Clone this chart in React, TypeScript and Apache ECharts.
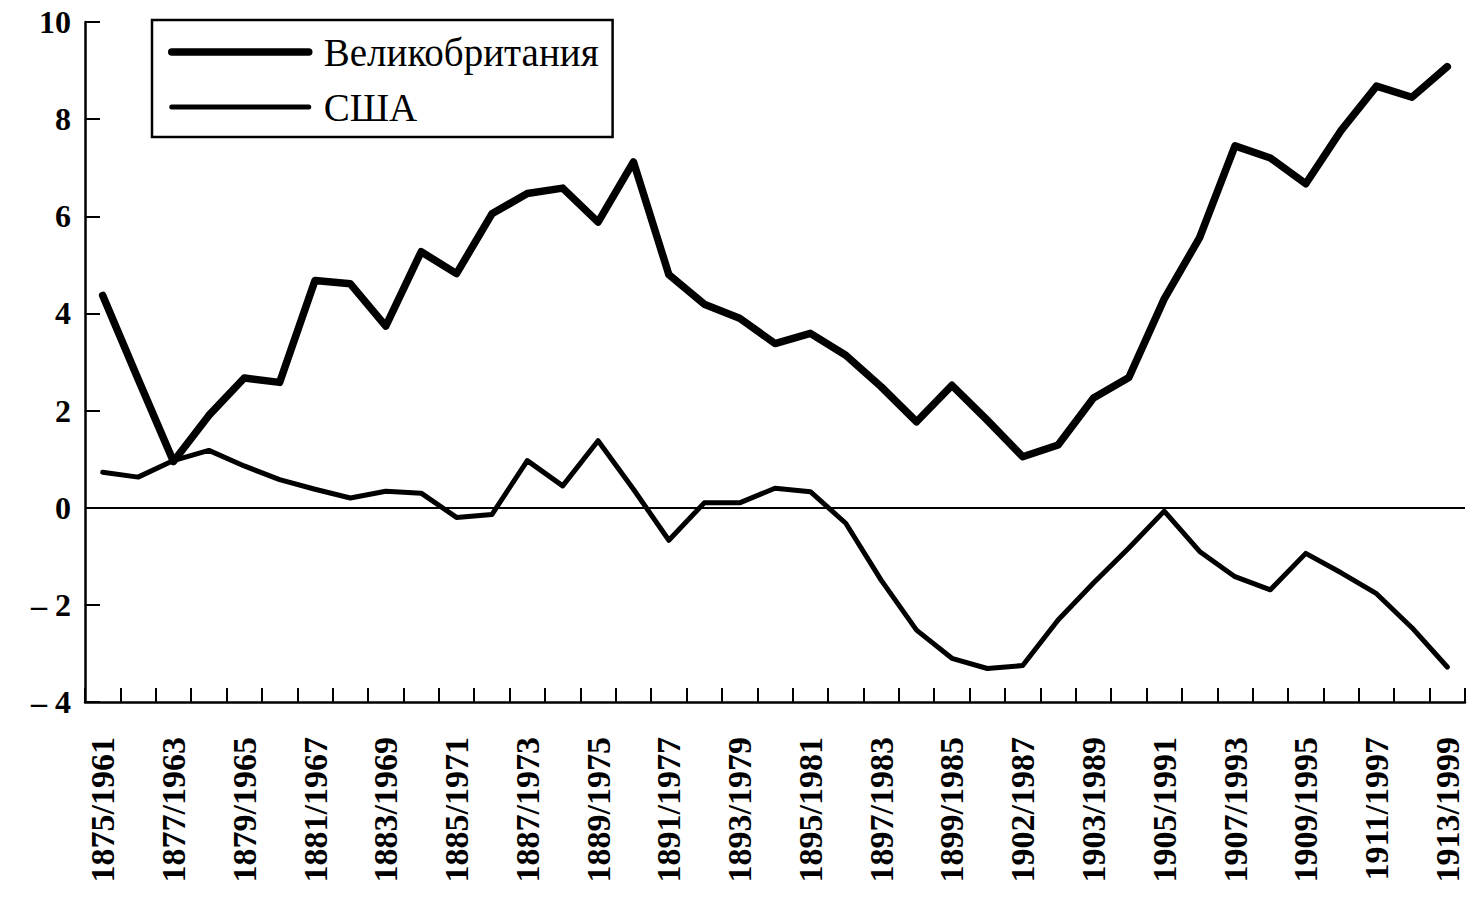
import React, { useEffect, useRef } from "react";
import * as echarts from "echarts";

const categories: string[] = [
  "1875/1961", "1876/1962", "1877/1963", "1878/1964", "1879/1965", "1880/1966",
  "1881/1967", "1882/1968", "1883/1969", "1884/1970", "1885/1971", "1886/1972",
  "1887/1973", "1888/1974", "1889/1975", "1890/1976", "1891/1977", "1892/1978",
  "1893/1979", "1894/1980", "1895/1981", "1896/1982", "1897/1983", "1898/1984",
  "1899/1985", "1900/1986", "1902/1987", "1902/1988", "1903/1989", "1904/1990",
  "1905/1991", "1906/1992", "1907/1993", "1908/1994", "1909/1995", "1910/1996",
  "1911/1997", "1912/1998", "1913/1999",
];

const seriesNames = ["Великобритания", "США"];

const britain: number[] = [
  4.37, 2.65, 0.95, 1.9, 2.67, 2.58, 4.68, 4.61, 3.74, 5.27,
  4.82, 6.05, 6.47, 6.58, 5.88, 7.12, 4.8, 4.19, 3.9, 3.38,
  3.59, 3.14, 2.49, 1.77, 2.52, 1.8, 1.05, 1.29, 2.26, 2.68,
  4.3, 5.56, 7.45, 7.2, 6.67, 7.77, 8.68, 8.45, 9.08,
];

const usa: number[] = [
  0.73, 0.63, 0.97, 1.18, 0.86, 0.58, 0.38, 0.2, 0.34, 0.3,
  -0.2, -0.14, 0.97, 0.45, 1.38, 0.38, -0.67, 0.1, 0.1, 0.4,
  0.33, -0.32, -1.49, -2.52, -3.1, -3.31, -3.25, -2.31, -1.55, -0.83,
  -0.07, -0.9, -1.42, -1.69, -0.94, -1.34, -1.77, -2.47, -3.28,
];

const FONT = "'Liberation Serif', 'DejaVu Serif', serif";

export default function App() {
  const ref = useRef<HTMLDivElement>(null);

  useEffect(() => {
    if (!ref.current) return;
    const chart = echarts.init(ref.current, undefined, { renderer: "svg" });
    chart.setOption({
      animation: false,
      backgroundColor: "#ffffff",
      grid: { left: 85, right: 8, top: 22, bottom: 195, containLabel: false },
      legend: {
        left: 152,
        top: 20,
        orient: "vertical",
        data: [
          { name: seriesNames[0], lineStyle: { width: 7.5 } },
          { name: seriesNames[1], lineStyle: { width: 5 } },
        ],
        itemWidth: 137,
        itemHeight: 14,
        itemGap: 15,
        padding: [12, 14, 10, 16],
        itemStyle: { color: "transparent", opacity: 0, borderWidth: 0 },
        borderColor: "#000",
        borderWidth: 2.5,
        borderRadius: 0,
        backgroundColor: "#fff",
        textStyle: {
          fontFamily: FONT,
          fontSize: 39,
          color: "#000",
          lineHeight: 40,
          padding: [0, 0, 0, 10],
        },
      },
      xAxis: {
        type: "category",
        data: categories,
        boundaryGap: true,
        axisLine: { show: true, onZero: false, lineStyle: { color: "#000", width: 2.5 } },
        axisTick: {
          show: true,
          inside: true,
          length: 14,
          interval: 0,
          lineStyle: { color: "#000", width: 2 },
        },
        axisLabel: {
          interval: 1,
          rotate: 90,
          margin: 35,
          fontFamily: FONT,
          fontWeight: "bold",
          fontSize: 34,
          color: "#000",
        },
        splitLine: { show: false },
      },
      yAxis: {
        type: "value",
        min: -4,
        max: 10,
        interval: 2,
        axisLine: { show: true, lineStyle: { color: "#000", width: 2.5 } },
        axisTick: { show: true, inside: true, length: 15, lineStyle: { color: "#000", width: 2 } },
        axisLabel: {
          margin: 14,
          fontFamily: FONT,
          fontWeight: "bold",
          fontSize: 32,
          color: "#000",
          formatter: (v: number) => (v < 0 ? "– " + Math.abs(v) : String(v)),
        },
        splitLine: { show: false },
      },
      series: [
        {
          name: seriesNames[0],
          type: "line",
          data: britain,
          showSymbol: false,
          symbol: "none",
          lineStyle: { color: "#000", width: 7.5, join: "round", cap: "round" },
          itemStyle: { color: "#000" },
          z: 3,
        },
        {
          name: seriesNames[1],
          type: "line",
          data: usa,
          showSymbol: false,
          symbol: "none",
          lineStyle: { color: "#000", width: 5, join: "round", cap: "round" },
          itemStyle: { color: "#000" },
          z: 3,
          markLine: {
            silent: true,
            symbol: "none",
            label: { show: false },
            lineStyle: { color: "#000", width: 1.8, type: "solid" },
            data: [{ yAxis: 0 }],
          },
        },
      ],
    });
    return () => chart.dispose();
  }, []);

  return (
    <div
      ref={ref}
      style={{ position: "fixed", left: 0, top: 0, width: "1473px", height: "897px" }}
    />
  );
}
